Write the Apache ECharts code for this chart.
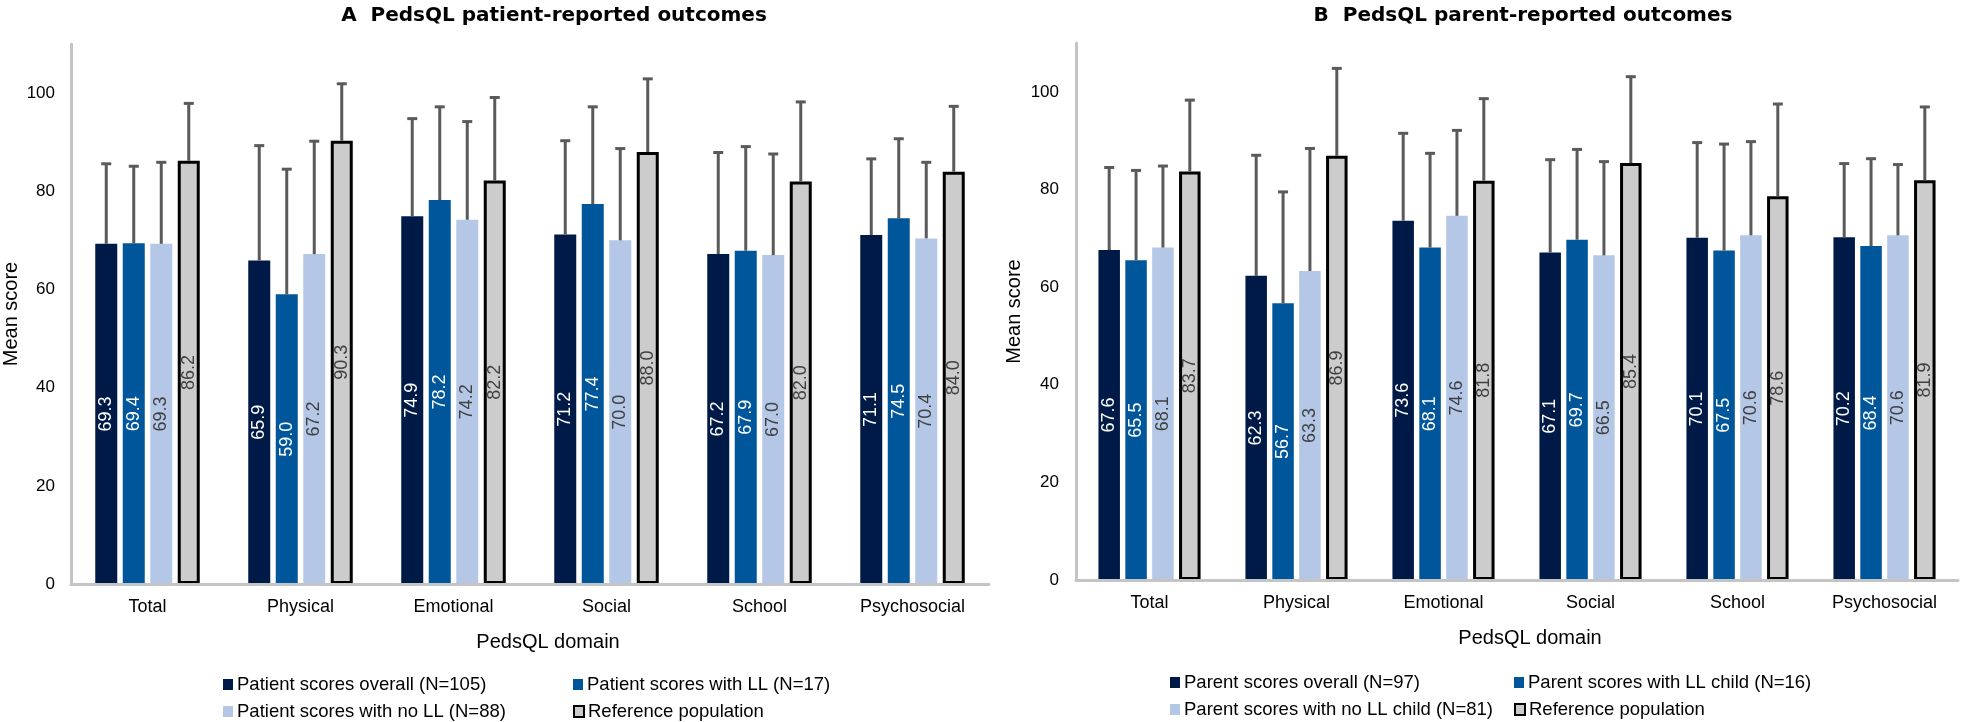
<!DOCTYPE html>
<html>
<head>
<meta charset="utf-8">
<script src="https://cdn.jsdelivr.net/npm/echarts@6/dist/echarts.min.js"></script>
<style>html,body{margin:0;padding:0;background:#fff}#c{width:1961px;height:722px}</style>
</head>
<body>
<div id="c"></div>
<script>
const categories = ['Total', 'Physical', 'Emotional', 'Social', 'School', 'Psychosocial'];
const yTicks = [0, 20, 40, 60, 80, 100];

// Panel A: patient-reported
const patientOverall = [69.3, 65.9, 74.9, 71.2, 67.2, 71.1];
const patientLL = [69.4, 59.0, 78.2, 77.4, 67.9, 74.5];
const patientNoLL = [69.3, 67.2, 74.2, 70.0, 67.0, 70.4];
const patientRef = [86.2, 90.3, 82.2, 88.0, 82.0, 84.0];
// upper end of the error bars (mean + SD)
const patientOverallTop = [85.6, 89.3, 94.8, 90.3, 87.9, 86.6];
const patientLLTop = [85.1, 84.5, 97.2, 97.2, 89.1, 90.7];
const patientNoLLTop = [85.9, 90.2, 94.2, 88.7, 87.6, 85.9];
const patientRefTop = [97.9, 101.9, 99.1, 102.9, 98.2, 97.3];

// Panel B: parent-reported
const parentOverall = [67.6, 62.3, 73.6, 67.1, 70.1, 70.2];
const parentLL = [65.5, 56.7, 68.1, 69.7, 67.5, 68.4];
const parentNoLL = [68.1, 63.3, 74.6, 66.5, 70.6, 70.6];
const parentRef = [83.7, 86.9, 81.8, 85.4, 78.6, 81.9];
const parentOverallTop = [84.5, 87.0, 91.5, 86.1, 89.6, 85.3];
const parentLLTop = [83.9, 79.5, 87.4, 88.2, 89.3, 86.3];
const parentNoLLTop = [84.8, 88.4, 92.1, 85.7, 89.8, 85.1];
const parentRefTop = [98.3, 104.8, 98.6, 103.1, 97.5, 96.9];

const patientNames = ['Patient scores overall (N=105)', 'Patient scores with LL (N=17)', 'Patient scores with no LL (N=88)', 'Reference population'];
const parentNames = ['Parent scores overall (N=97)', 'Parent scores with LL child (N=16)', 'Parent scores with no LL child (N=81)', 'Reference population '];

const colors = ['#001a47', '#00569a', '#b4c7e7', '#cccccc'];
const labelColors = ['#ffffff', '#ffffff', '#404040', '#404040'];
const FONT = '"Liberation Sans", Arial, sans-serif';

const chart = echarts.init(document.getElementById('c'));

const panels = [
  { names: patientNames, values: [patientOverall, patientLL, patientNoLL, patientRef],
    tops: [patientOverallTop, patientLLTop, patientNoLLTop, patientRefTop],
    grid: { left: 71, top: 44, width: 918, height: 540 }, barWidth: 22, barGap: 0.25,
    title: 'A  PedsQL patient-reported outcomes', titleX: 549, nameShift: 36, yNameGap: 50, yLabelMargin: 16,
    legendX: [223, 573], legendY: [675, 702] },
  { names: parentNames, values: [parentOverall, parentLL, parentNoLL, parentRef],
    tops: [parentOverallTop, parentLLTop, parentNoLLTop, parentRefTop],
    grid: { left: 1076, top: 43, width: 882, height: 537 }, barWidth: 21.5, barGap: 0.25,
    title: 'B  PedsQL parent-reported outcomes', titleX: 1518, nameShift: 26, yNameGap: 52, yLabelMargin: 17,
    legendX: [1170, 1514], legendY: [673, 700] }
];

const option = {
  animation: false,
  backgroundColor: '#fff',
  title: [], grid: [], xAxis: [], yAxis: [], series: [], legend: []
};

panels.forEach((p, pi) => {
  option.title.push({
    text: p.title, left: p.titleX, top: 1, textAlign: 'center',
    textStyle: { fontFamily: '"DejaVu Sans", sans-serif', fontWeight: 'bold', fontSize: 20, color: '#000' }
  });
  option.grid.push(Object.assign({ containLabel: false }, p.grid));
  option.xAxis.push({
    type: 'category', gridIndex: pi, data: categories,
    name: 'PedsQL domain', nameLocation: 'middle', nameGap: 48,
    nameTextStyle: { fontFamily: FONT, fontSize: 20, color: '#000', padding: [0, 0, 0, p.nameShift] },
    axisLine: { lineStyle: { color: '#c4c4c4', width: 3 } },
    axisTick: { show: false },
    axisLabel: { fontFamily: FONT, fontSize: 18, color: '#000', margin: 14 },
    z: 3
  });
  option.yAxis.push({
    type: 'value', gridIndex: pi, min: 0, max: 110, interval: 20,
    name: 'Mean score', nameLocation: 'middle', nameGap: p.yNameGap, nameRotate: 90,
    nameTextStyle: { fontFamily: FONT, fontSize: 20, color: '#000' },
    axisLine: { show: true, lineStyle: { color: '#c4c4c4', width: 3 } },
    axisTick: { show: false },
    splitLine: { show: false },
    axisLabel: { fontFamily: FONT, fontSize: 17, color: '#000', margin: p.yLabelMargin, showMaxLabel: false,
      formatter: v => (yTicks.indexOf(v) >= 0 ? String(v) : '') }
  });
  p.values.forEach((vals, si) => {
    const isRef = si === 3;
    option.series.push({
      type: 'bar', name: p.names[si], xAxisIndex: pi, yAxisIndex: pi,
      data: vals, barWidth: p.barWidth, barGap: (p.barGap * 100) + '%',
      itemStyle: isRef ? { color: colors[si], borderColor: '#000', borderWidth: 3 } : { color: colors[si] },
      label: { show: true, position: 'inside', rotate: 90, formatter: d => d.value.toFixed(1),
        fontFamily: FONT, fontSize: 18, color: labelColors[si] },
      z: 2
    });
  });
  // error bars
  const errData = [];
  p.tops.forEach((tops, si) => {
    tops.forEach((t, ci) => errData.push([ci, t, p.values[si][ci], si]));
  });
  const spacing = p.barWidth * (1 + p.barGap);
  option.series.push({
    type: 'custom', xAxisIndex: pi, yAxisIndex: pi, data: errData, z: 5, silent: true,
    encode: { x: 0, y: 1 },
    renderItem: (params, api) => {
      const ci = api.value(0), top = api.value(1), mean = api.value(2), si = api.value(3);
      const x = api.coord([ci, 0])[0] + (si - 1.5) * spacing;
      const y0 = api.coord([ci, mean])[1];
      const y1 = api.coord([ci, top])[1];
      const st = { stroke: '#5a5a5a', lineWidth: 3 };
      return { type: 'group', children: [
        { type: 'line', shape: { x1: x, y1: y0, x2: x, y2: y1 }, style: st },
        { type: 'line', shape: { x1: x - 5, y1: y1, x2: x + 5, y2: y1 }, style: st }
      ] };
    }
  });
  // legends (one item each, placed in two columns / two rows)
  const pos = [[0, 0], [1, 0], [0, 1], [1, 1]];
  p.names.forEach((n, si) => {
    option.legend.push({
      data: [si === 3 ? { name: n, itemStyle: { borderWidth: 2, borderColor: '#000', color: '#cccccc' } } : n],
      left: p.legendX[pos[si][0]], top: p.legendY[pos[si][1]], padding: 0,
      itemWidth: 10, itemHeight: 11, itemGap: 0, icon: 'rect',
      textStyle: { fontFamily: FONT, fontSize: 18.5, color: '#000', padding: [0, 0, 0, -1] },
      selectedMode: false
    });
  });
});

chart.setOption(option);
</script>
</body>
</html>
